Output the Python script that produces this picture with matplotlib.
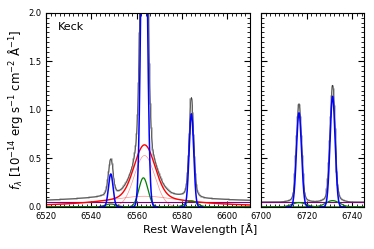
import matplotlib
matplotlib.use('Agg')
import matplotlib.pyplot as plt
import numpy as np
from matplotlib.ticker import MultipleLocator

plt.rcParams['font.size'] = 6

# fitted line parameters (centre [A], peak, sigma / width [A])
cont = 0.048

# narrow lines (blue)
narrow_c = [6548.6, 6563.3, 6584.2, 6716.6, 6731.3]
narrow_a = [0.34, 4.5, 0.96, 0.97, 1.14]
narrow_s = [1.0, 1.2, 1.0, 1.1, 1.1]

# intermediate components (green)
mid_c = [6548.6, 6563.0, 6584.2, 6716.6, 6731.3]
mid_a = [0.03, 0.30, 0.062, 0.045, 0.065]
mid_s = [2.5, 2.0, 2.5, 3.0, 3.0]

# broad Halpha: gaussian part and lorentzian part (pink), sum in red
bg_c, bg_a, bg_s = 6563.5, 0.53, 4.5
bl_c, bl_a, bl_w = 6563.5, 0.11, 22.0


def gauss(x, c, a, s):
    return a * np.exp(-0.5 * ((x - c) / s) ** 2)


def lorentz(x, c, a, w):
    return a / (1 + ((x - c) / w) ** 2)


fig = plt.figure(figsize=(3.74, 2.49), dpi=100)
ax1 = fig.add_axes([0.123, 0.169, 0.545, 0.779])
ax2 = fig.add_axes([0.698, 0.169, 0.275, 0.779])

for ax, lo, hi in [(ax1, 6520, 6610), (ax2, 6700, 6745)]:
    x = np.linspace(lo, hi, 1500)
    xs = np.arange(lo, hi + 0.4, 0.4)

    def total(xx):
        t = cont + np.zeros_like(xx)
        for c, a, s in zip(narrow_c, narrow_a, narrow_s):
            t += gauss(xx, c, a, s)
        for c, a, s in zip(mid_c, mid_a, mid_s):
            t += gauss(xx, c, a, s)
        t += gauss(xx, bg_c, bg_a, bg_s) + lorentz(xx, bl_c, bl_a, bl_w)
        return t

    ax.step(xs, total(xs), where='mid', color='#b4b4b4', lw=1.2)
    ax.plot(x, total(x), color='#3a3a3a', lw=0.5)

    ax.axhline(cont, color='purple', lw=0.8)
    if ax is ax1:
        p1 = gauss(x, bg_c, bg_a, bg_s)
        p2 = lorentz(x, bl_c, bl_a, bl_w)
        ax.plot(x, p1, color='r', lw=0.5, alpha=0.45)
        ax.plot(x, p2, color='r', lw=0.5, alpha=0.45)
        ax.plot(x, p1 + p2, color='r', lw=1.0)
    for c, a, s in zip(mid_c, mid_a, mid_s):
        if lo < c < hi:
            ax.plot(x, gauss(x, c, a, s), color='g', lw=0.9)
    for c, a, s in zip(narrow_c, narrow_a, narrow_s):
        if lo < c < hi:
            m = np.abs(x - c) < 5 * s
            ax.plot(x[m], gauss(x[m], c, a, s), color='b', lw=1.1)

    ax.set_xlim(lo, hi)
    ax.set_ylim(0, 2.0)
    ax.xaxis.set_major_locator(MultipleLocator(20))
    ax.xaxis.set_minor_locator(MultipleLocator(2))
    ax.yaxis.set_major_locator(MultipleLocator(0.5))
    ax.yaxis.set_minor_locator(MultipleLocator(0.05))
    ax.tick_params(which='both', direction='in', top=True, right=True, labelsize=6)
    ax.tick_params(which='major', length=4)
    ax.tick_params(which='minor', length=2)

ax2.set_yticklabels([])
ax1.text(0.06, 0.93, 'Keck', transform=ax1.transAxes, fontsize=8, va='center')
ax1.set_ylabel(r'$f_\lambda$ [$10^{-14}$ erg s$^{-1}$ cm$^{-2}$ $\mathrm{\AA}^{-1}$]',
               fontsize=8.5, labelpad=2)
fig.text(0.535, 0.08, 'Rest Wavelength [Å]', ha='center', va='center', fontsize=8)

plt.savefig('out.png', dpi=100)
